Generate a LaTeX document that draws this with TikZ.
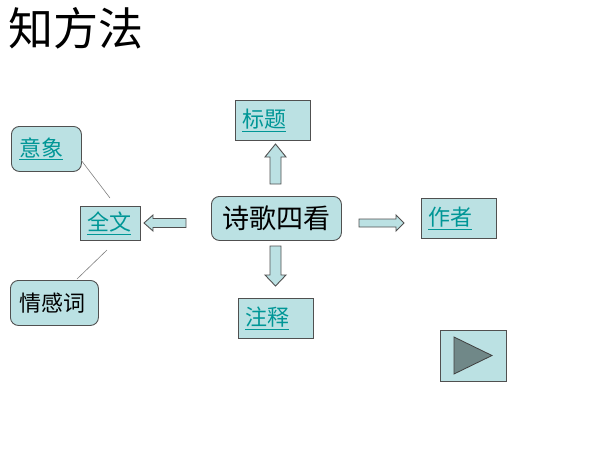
\documentclass[tikz,border=0pt]{standalone}
\usepackage{fontspec}
\newfontfamily\cjk{Noto Sans CJK SC}
\definecolor{boxfill}{RGB}{187,225,227}
\definecolor{boxline}{RGB}{80,80,80}
\definecolor{linkcol}{RGB}{0,150,150}
\definecolor{playfill}{RGB}{112,136,136}
\definecolor{thinline}{RGB}{128,128,128}
\begin{document}
\begin{tikzpicture}[x=1pt,y=-1pt,
  box/.style={draw=boxline, fill=boxfill, line width=0.9pt, inner xsep=7pt, inner ysep=0pt, anchor=north west, align=left, font=\cjk\fontsize{22}{26}\selectfont},
  linkbox/.style={box, text=linkcol},
  rbox/.style={box, rounded corners=8pt},
  blockarrow/.style={draw=boxline, fill=boxfill, line width=0.9pt, line join=miter},
  connline/.style={draw=thinline, line width=0.6pt}]
\useasboundingbox (0,0) rectangle (600,450);
\node[anchor=north west, inner sep=0pt, font=\cjk\fontsize{45}{50}\selectfont] (title) at (8,7) {知方法};
% boxes
\node[linkbox, text width=61pt, minimum height=40pt] (biaoti) at (235,100) {\underline{标题}};
\node[linkbox, text width=61pt, minimum height=40pt] (zuozhe) at (421,198) {\underline{作者}};
\node[linkbox, text width=61pt, minimum height=40pt] (zhushi) at (238,298) {\underline{注释}};
\node[linkbox, text width=46pt, minimum height=34pt] (quanwen) at (80,206) {\underline{全文}};
\node[rbox, text=linkcol, inner xsep=8pt, text width=54pt, minimum height=45pt] (yixiang) at (11,126) {\underline{意象}};
\node[rbox, inner xsep=9pt, text width=70pt, minimum height=45pt] (qinggan) at (10,280) {情感词};
\node[rbox, align=center, inner xsep=0pt, text width=130pt, minimum height=44pt, font=\cjk\fontsize{27}{30}\selectfont] (center) at (211,196) {诗歌四看};
\node[box, inner sep=0pt, minimum width=66pt, minimum height=51pt] (play) at (440,330) {};
% play triangle
\draw[fill=playfill, draw=black!75, line width=0.8pt] (454,337) -- (492,355.5) -- (454,374) -- cycle;
% block arrows
\draw[blockarrow] (270,184) -- (270,157) -- (265,157) -- (275.5,144) -- (286,157) -- (281,157) -- (281,184) -- cycle;
\draw[blockarrow] (270,246) -- (270,275) -- (265,275) -- (275.5,286) -- (286,275) -- (281,275) -- (281,246) -- cycle;
\draw[blockarrow] (186,218.5) -- (153,218.5) -- (153,215) -- (144,223) -- (153,231) -- (153,227.5) -- (186,227.5) -- cycle;
\draw[blockarrow] (359,219) -- (396,219) -- (396,215) -- (404,223) -- (396,231) -- (396,227) -- (359,227) -- cycle;
% thin lines
\coordinate (l1a) at (81,160);
\coordinate (l1b) at (110,198);
\coordinate (l2a) at (107,250);
\coordinate (l2b) at (77,279);
\draw[connline] (l1a) -- (l1b);
\draw[connline] (l2a) -- (l2b);
\end{tikzpicture}
\end{document}
